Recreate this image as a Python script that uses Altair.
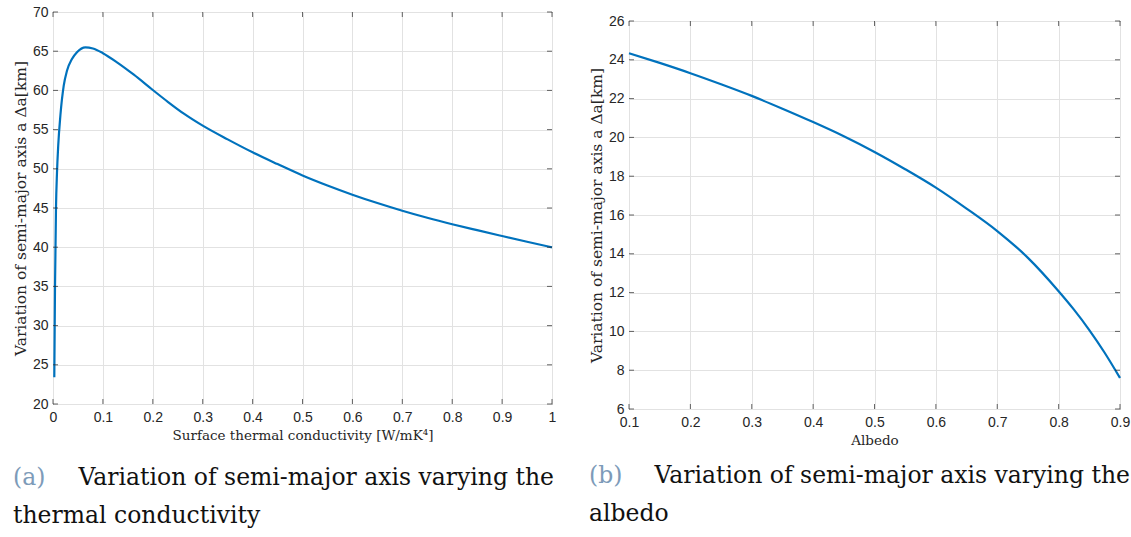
import altair as alt
import pandas as pd

# Panel (a): surface thermal conductivity vs variation of semi-major axis
k_vals = [0.0026, 0.004, 0.006, 0.008, 0.0105, 0.0148, 0.0215, 0.028, 0.038, 0.048,
          0.065, 0.08, 0.1, 0.129, 0.162, 0.2, 0.23, 0.263, 0.3, 0.35,
          0.4, 0.45, 0.5, 0.55, 0.6, 0.65, 0.7, 0.75, 0.8, 0.85, 0.9, 0.95, 1.0]
k_da = [23.4, 34.8, 45.0, 49.5, 53.0, 56.8, 60.6, 62.5, 64.0, 64.87,
        65.5, 65.35, 64.75, 63.55, 62.0, 60.05, 58.55, 57.0, 55.5, 53.75,
        52.1, 50.6, 49.15, 47.87, 46.7, 45.63, 44.65, 43.75, 42.93, 42.17, 41.43, 40.7, 39.98]

# Panel (b): albedo vs variation of semi-major axis
albedo_vals = [0.1, 0.15, 0.2, 0.25, 0.3, 0.35, 0.4, 0.45, 0.5, 0.55, 0.6, 0.65,
               0.7, 0.75, 0.8, 0.825, 0.85, 0.875, 0.9]
albedo_da = [24.34, 23.84, 23.31, 22.74, 22.14, 21.48, 20.79, 20.06, 19.25, 18.36,
             17.41, 16.33, 15.17, 13.79, 12.07, 11.12, 10.07, 8.9, 7.6]

k_xticks = [0, 0.1, 0.2, 0.3, 0.4, 0.5, 0.6, 0.7, 0.8, 0.9, 1]
k_yticks = [20, 25, 30, 35, 40, 45, 50, 55, 60, 65, 70]
a_xticks = [0.1, 0.2, 0.3, 0.4, 0.5, 0.6, 0.7, 0.8, 0.9]
a_yticks = [6, 8, 10, 12, 14, 16, 18, 20, 22, 24, 26]

y_title = "Variation of semi-major axis a  Δa[km]"
k_x_title = "Surface thermal conductivity [W/mK⁴]"
a_x_title = "Albedo"

cap_a = ["(a)", "Variation of semi-major axis varying the", "thermal conductivity"]
cap_b = ["(b)", "Variation of semi-major axis varying the", "albedo"]

LINE = "#0072BD"
SERIF = "DejaVu Serif"
CAP_LABEL = "#7d9bb9"
AX = "#262626"
CAP_SIZE = 23.5

one_row = alt.Data(values=[{"d": 0}])


def axis(vals):
    return alt.Axis(values=vals, format="~g", labelOverlap=False, labelFlush=False)


def captions(cap, right_x, y1, y2):
    lab = alt.Chart(one_row).mark_text(
        font=SERIF, fontSize=CAP_SIZE, color=CAP_LABEL, align="left", baseline="middle"
    ).encode(x=alt.value(-40), y=alt.value(y1), text=alt.value(cap[0]))
    l1 = alt.Chart(one_row).mark_text(
        font=SERIF, fontSize=CAP_SIZE, color="#111111", align="right", baseline="middle"
    ).encode(x=alt.value(right_x), y=alt.value(y1), text=alt.value(cap[1]))
    l2 = alt.Chart(one_row).mark_text(
        font=SERIF, fontSize=CAP_SIZE, color="#111111", align="left", baseline="middle"
    ).encode(x=alt.value(-40), y=alt.value(y2), text=alt.value(cap[2]))
    return [lab, l1, l2]


def panel(xf, xvals, yvals, xticks, yticks, xdom, ydom, xt, w, h, cap, y1, y2):
    df = pd.DataFrame({xf: xvals, "da": yvals})
    xscale = alt.Scale(domain=xdom, nice=False, zero=False)
    yscale = alt.Scale(domain=ydom, nice=False, zero=False)
    X = lambda: alt.X(f"{xf}:Q", scale=xscale, axis=axis(xticks), title=xt)
    Y = lambda: alt.Y("da:Q", scale=yscale, axis=axis(yticks), title=y_title)
    line = alt.Chart(df).mark_line(color=LINE, strokeWidth=2.2, interpolate="monotone").encode(
        x=X(), y=Y())
    dx = pd.DataFrame({xf: xticks})
    dy = pd.DataFrame({"da": yticks})
    ticks = []
    for ypos in (h - 2.5, 2.5):
        ticks.append(alt.Chart(dx).mark_tick(color=AX, size=5, thickness=1, orient="vertical").encode(
            x=X(), y=alt.value(ypos)))
    for xpos in (2.5, w - 2.5):
        ticks.append(alt.Chart(dy).mark_tick(color=AX, size=5, thickness=1, orient="horizontal").encode(
            y=Y(), x=alt.value(xpos)))
    return alt.layer(line, *ticks, *captions(cap, 501, y1, y2)).properties(width=w, height=h)


left = panel("k", k_vals, k_da, k_xticks, k_yticks, [0, 1], [20, 70],
             k_x_title, 499, 392, cap_a, 466, 504)
right = panel("alb", albedo_vals, albedo_da, a_xticks, a_yticks, [0.1, 0.9], [6, 26],
              a_x_title, 491, 388, cap_b, 455, 493)

spacer = alt.Chart(one_row).mark_rule(strokeOpacity=0, strokeWidth=0).encode(
    x=alt.value(0), x2=alt.value(1), y=alt.value(0)
).properties(width=491, height=1, view=alt.ViewBackground(stroke=None))

right_col = alt.vconcat(spacer, right, spacing=0)

chart = alt.hconcat(left, right_col, spacing=31).properties(
    padding={"left": 12, "top": 4, "right": 0, "bottom": 0},
    background="white",
).configure_view(
    stroke=AX, strokeWidth=1
).configure_axis(
    labelFont="Liberation Sans", labelFontSize=14, labelColor=AX,
    titleFont=SERIF, titleFontSize=13.5, titleFontWeight="normal", titleColor=AX,
    gridColor="#e2e2e2", gridWidth=1, domain=False, ticks=False, tickSize=0,
    labelPadding=5, titlePadding=6,
).configure_axisX(
    labelPadding=6, titlePadding=4,
).configure_axisY(
    titleFontSize=15.5, titlePadding=4,
)

chart.save("out.html", embed_options={"renderer": "svg", "actions": False})
